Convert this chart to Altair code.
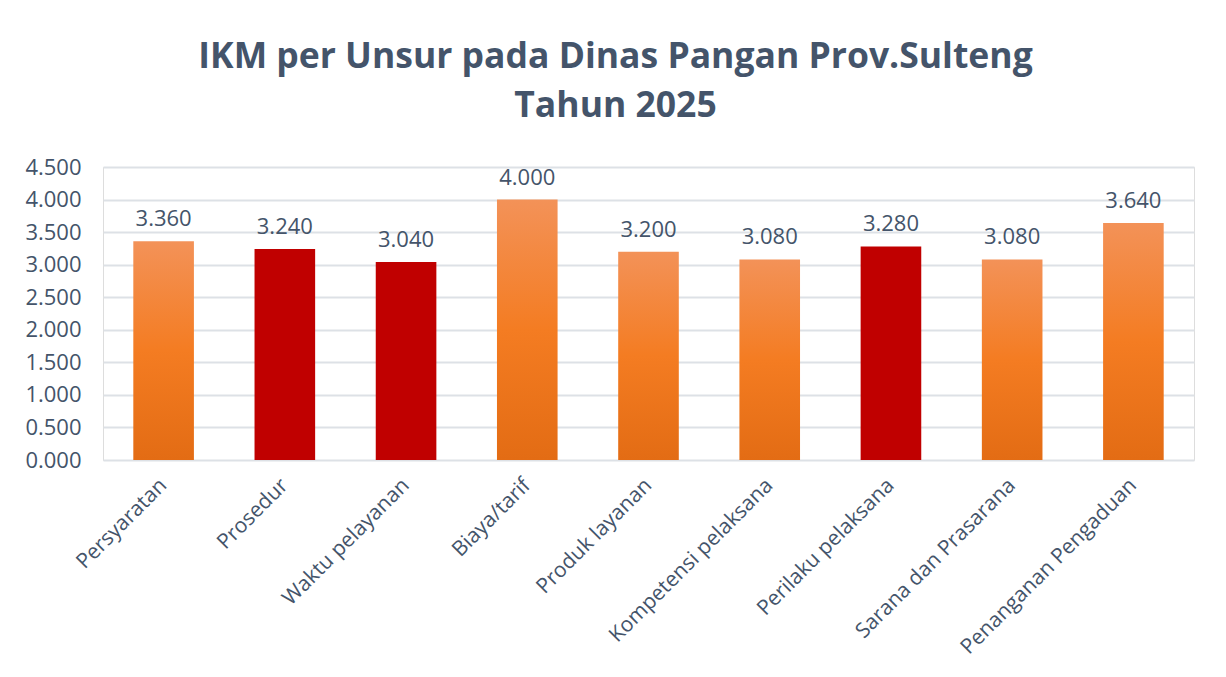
import altair as alt
import pandas as pd

categories = ["Persyaratan", "Prosedur", "Waktu pelayanan", "Biaya/tarif", "Produk layanan",
              "Kompetensi pelaksana", "Perilaku pelaksana", "Sarana dan Prasarana", "Penanganan Pengaduan"]
values = [3.36, 3.24, 3.04, 4.00, 3.20, 3.08, 3.28, 3.08, 3.64]
highlight = [False, True, True, False, False, False, True, False, False]

df = pd.DataFrame({"unsur": categories, "nilai": values, "merah": highlight})

TXT = "#44546A"
FONT = "Open Sans"

orange_grad = alt.Gradient(
    gradient="linear", x1=0, x2=0, y1=0, y2=1,
    stops=[alt.GradientStop(color="#F39258", offset=0),
           alt.GradientStop(color="#F47C22", offset=0.5),
           alt.GradientStop(color="#E36C14", offset=1)],
)

x = alt.X("unsur:N", sort=categories, title=None,
          scale=alt.Scale(paddingInner=0.5, paddingOuter=0.25),
          axis=alt.Axis(labelAngle=-45, labelAlign="right", labelBaseline="middle",
                        labelFontSize=21, labelColor=TXT, labelFont=FONT, labelPadding=22,
                        labelLimit=500, ticks=False, domain=False, grid=False))
y = alt.Y("nilai:Q", title=None,
          scale=alt.Scale(domain=[0, 4.5], nice=False),
          axis=alt.Axis(values=[0, 0.5, 1, 1.5, 2, 2.5, 3, 3.5, 4, 4.5], format=".3f",
                        labelFontSize=22, labelColor=TXT, labelFont=FONT, labelPadding=22,
                        ticks=False, domain=False, grid=True, gridColor="#DDE1E6", gridWidth=2))

base = alt.Chart(df)
bars_o = base.transform_filter("!datum.merah").mark_bar(color=orange_grad).encode(x=x, y=y)
bars_r = base.transform_filter("datum.merah").mark_bar(color="#C00000").encode(x=x, y=y)
labels = base.mark_text(baseline="alphabetic", dy=-15, fontSize=22, color=TXT, font=FONT).encode(
    x=x, y=y, text=alt.Text("nilai:Q", format=".3f"))

chart = alt.layer(bars_o, bars_r, labels).properties(
    width=1091, height=293,
    padding={"left": 95, "top": 159, "right": 24, "bottom": 209},
    autosize=alt.AutoSizeParams(type="none"),
    title=alt.TitleParams(
        text=["IKM per Unsur pada Dinas Pangan Prov.Sulteng", "Tahun 2025"],
        fontSize=35.5, fontWeight="bold", color=TXT, font=FONT,
        anchor="middle", offset=32, dx=-33, lineHeight=49),
).configure_view(stroke=None).configure(background="white")

chart.save("out.html", embed_options={"renderer": "svg", "actions": False})
